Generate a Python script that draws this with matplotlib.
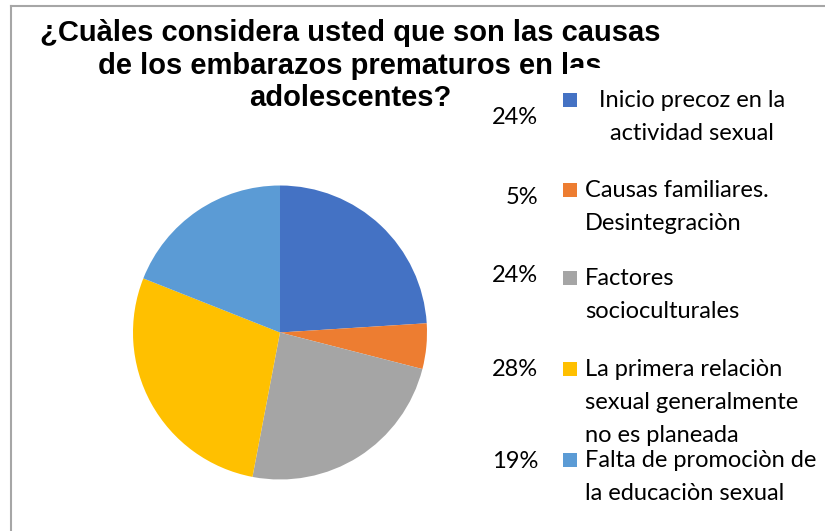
import matplotlib
matplotlib.use("Agg")
from matplotlib import pyplot as plt
from matplotlib.patches import Rectangle

# datos de la encuesta
categorias = [
    "Inicio precoz en la\nactividad sexual",
    "Causas familiares.\nDesintegraciòn",
    "Factores\nsocioculturales",
    "La primera relaciòn\nsexual generalmente\nno es planeada",
    "Falta de promociòn de\nla educaciòn sexual",
]
porcentajes = [24, 5, 24, 28, 19]
colores = ["#4472C4", "#ED7D31", "#A5A5A5", "#FFC000", "#5B9BD5"]
titulo = ["¿Cuàles considera usted que son las causas",
          "de los embarazos prematuros en las",
          "adolescentes?"]

W, H = 825, 531


def px(x, y):
    """pixeles (origen arriba-izq) -> coordenadas de figura"""
    return x / W, 1 - y / H


fig = plt.figure(figsize=(W / 100, H / 100), dpi=100)

# marco del grafico
fig.add_artist(plt.Line2D([11 / W, 11 / W], [0, 1 - 6 / H], color="#A6A6A6", lw=1.5))
fig.add_artist(plt.Line2D([11 / W, 1], [1 - 6 / H, 1 - 6 / H], color="#A6A6A6", lw=1.5))

# torta
cx, cy, r = 280, 332.5, 147
ax = fig.add_axes([(cx - r) / W, (H - cy - r) / H, 2 * r / W, 2 * r / H])
ax.pie(porcentajes, colors=colores, startangle=90, counterclock=False,
       wedgeprops={'linewidth': 0})
ax.set_xlim(-1, 1)
ax.set_ylim(-1, 1)

# titulo, una linea por texto
for k, linea in enumerate(titulo):
    fig.text(*px(350, 41 + 32.5 * k), linea, ha='center', va='baseline',
             fontsize=21, fontweight='bold', family='Liberation Sans', zorder=3)

# caja de la leyenda (tapa parte del titulo, como en el original)
fig.add_artist(Rectangle(px(568, 531), (W - 568) / W, (531 - 68) / H,
                         transform=fig.transFigure, facecolor='white',
                         edgecolor='none', zorder=4))

# leyenda manual
fila_y = [100, 190, 278, 369, 460]
pct_y = [118, 197, 276, 369, 462]
for i, (lab, p, c) in enumerate(zip(categorias, porcentajes, colores)):
    fig.add_artist(Rectangle(px(563, fila_y[i] + 7), 14 / W, 14 / H,
                             transform=fig.transFigure, facecolor=c,
                             edgecolor='none', zorder=5))
    fig.text(*px(538, pct_y[i]), "{}%".format(p), ha='right', va='center',
             fontsize=17, family='Lato', zorder=5)
    if i == 0:
        fig.text(*px(692, fila_y[i] - 10), lab, ha='center', va='top',
                 fontsize=17, family='Lato', linespacing=1.7,
                 multialignment='center', zorder=5)
    else:
        fig.text(*px(585, fila_y[i] - 10), lab, ha='left', va='top',
                 fontsize=17, family='Lato', linespacing=1.7, zorder=5)

fig.savefig("out.png", dpi=100)
